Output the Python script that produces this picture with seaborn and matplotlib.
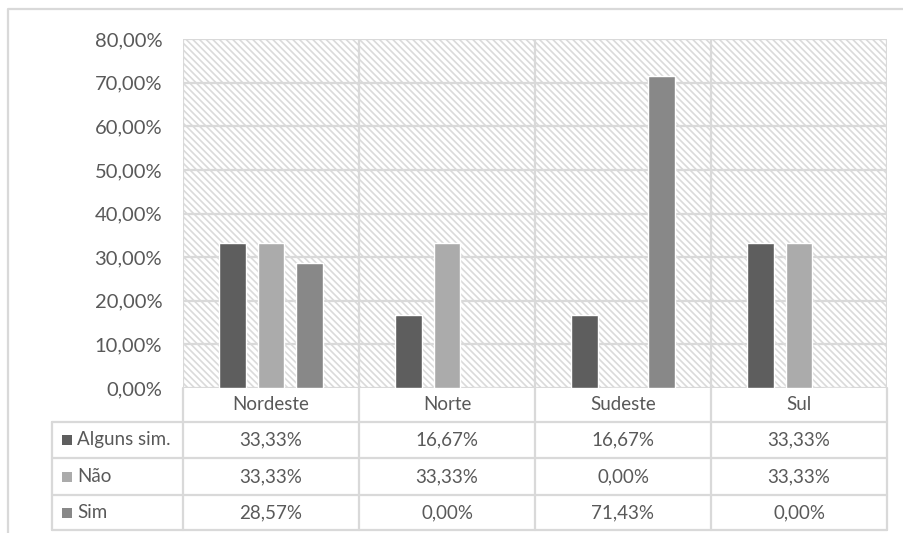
import matplotlib
matplotlib.use("Agg")
import matplotlib.pyplot as plt
import matplotlib.transforms as mtransforms
from matplotlib.patches import Rectangle
from matplotlib.lines import Line2D
from matplotlib.ticker import FuncFormatter, MultipleLocator
import seaborn as sns
import pandas as pd

# Data
regioes = ["Nordeste", "Norte", "Sudeste", "Sul"]
respostas = ["Alguns sim.", "Não", "Sim"]
alguns_sim = [33.33, 16.67, 16.67, 33.33]
nao = [33.33, 33.33, 0.00, 33.33]
sim = [28.57, 0.00, 71.43, 0.00]
cores = ["#5e5e5e", "#ababab", "#888888"]

valores = [alguns_sim, nao, sim]
df = pd.DataFrame(
    [(r, resp, v) for resp, serie in zip(respostas, valores) for r, v in zip(regioes, serie)],
    columns=["Região", "Resposta", "Percentual"],
)

sns.set_theme(style="white")
plt.rcParams["font.family"] = ["Lato", "DejaVu Sans"]
plt.rcParams["hatch.linewidth"] = 1.2

W, H = 904, 533
fig = plt.figure(figsize=(W / 100, H / 100), dpi=100)
fig.patch.set_facecolor("white")


def fx(x):
    return x / W


def fy(y):
    return 1 - y / H


left, right, top, bottom = 183, 887, 39, 388
ax = fig.add_axes([fx(left), fy(bottom), fx(right) - fx(left), fy(top) - fy(bottom)])

grid_color = "#d9d9d9"
text_color = "#595959"
fs_table = 13.5

# Hatched plot-area background
bg = Rectangle((0, 0), 1, 1, transform=ax.transAxes, facecolor="white",
               edgecolor="#dadada", linewidth=0, hatch="\\" * 5, zorder=0.1)
ax.add_patch(bg)
ax.patch.set_visible(False)

sns.barplot(data=df, x="Região", y="Percentual", hue="Resposta", order=regioes,
            hue_order=respostas, palette=cores, width=0.648, gap=0.29,
            saturation=1, legend=False, ax=ax, zorder=3)

ax.set_xlim(-0.5, 3.5)
ax.set_ylim(0, 80)
ax.yaxis.set_major_locator(MultipleLocator(10))
ax.yaxis.set_major_formatter(FuncFormatter(lambda v, p: f"{v:.2f}%".replace(".", ",")))
ax.tick_params(axis="y", length=0, pad=15, labelsize=14.5, labelcolor=text_color)
ax.set_xticks([])
ax.set_xlabel("")
ax.set_ylabel("")
for s in ax.spines.values():
    s.set_visible(False)

# Grid lines
for v in range(0, 90, 10):
    ax.axhline(v, color=grid_color, lw=1.6, zorder=1)
for b in [-0.5, 0.5, 1.5, 2.5, 3.5]:
    ax.axvline(b, color=grid_color, lw=1.6, zorder=1)

# Data table beneath the chart
trans = mtransforms.blended_transform_factory(ax.transData, fig.transFigure)
row_edges = [388, 422, 458, 495, 530]
table_left = 52

for b in [-0.5, 0.5, 1.5, 2.5, 3.5]:
    fig.add_artist(Line2D([b, b], [fy(row_edges[0]), fy(row_edges[-1])],
                          transform=trans, color=grid_color, lw=1.6))
for y in row_edges[1:]:
    fig.add_artist(Line2D([fx(table_left), fx(right)], [fy(y), fy(y)],
                          transform=fig.transFigure, color=grid_color, lw=1.6))
fig.add_artist(Line2D([fx(table_left), fx(table_left)], [fy(row_edges[1]), fy(row_edges[-1])],
                      transform=fig.transFigure, color=grid_color, lw=1.6))

for i, r in enumerate(regioes):
    fig.text(i, fy((row_edges[0] + row_edges[1]) / 2), r, transform=trans,
             ha="center", va="center", fontsize=fs_table, color=text_color)

for k, (resp, serie, cor) in enumerate(zip(respostas, valores, cores)):
    yc = fy((row_edges[k + 1] + row_edges[k + 2]) / 2)
    fig.add_artist(Rectangle((fx(62), yc - 5 / H), 10 / W, 10 / H,
                             transform=fig.transFigure, facecolor=cor, edgecolor="none"))
    fig.text(fx(77), yc, resp, ha="left", va="center", fontsize=fs_table, color=text_color)
    for i, v in enumerate(serie):
        fig.text(i, yc, f"{v:.2f}%".replace(".", ","), transform=trans,
                 ha="center", va="center", fontsize=fs_table, color=text_color)

# Outer chart frame
fig.add_artist(Line2D([fx(8), fx(8), 1], [0, fy(9), fy(9)], transform=fig.transFigure,
                      color=grid_color, lw=1.6))

fig.savefig("out.png", dpi=100, facecolor="white")
